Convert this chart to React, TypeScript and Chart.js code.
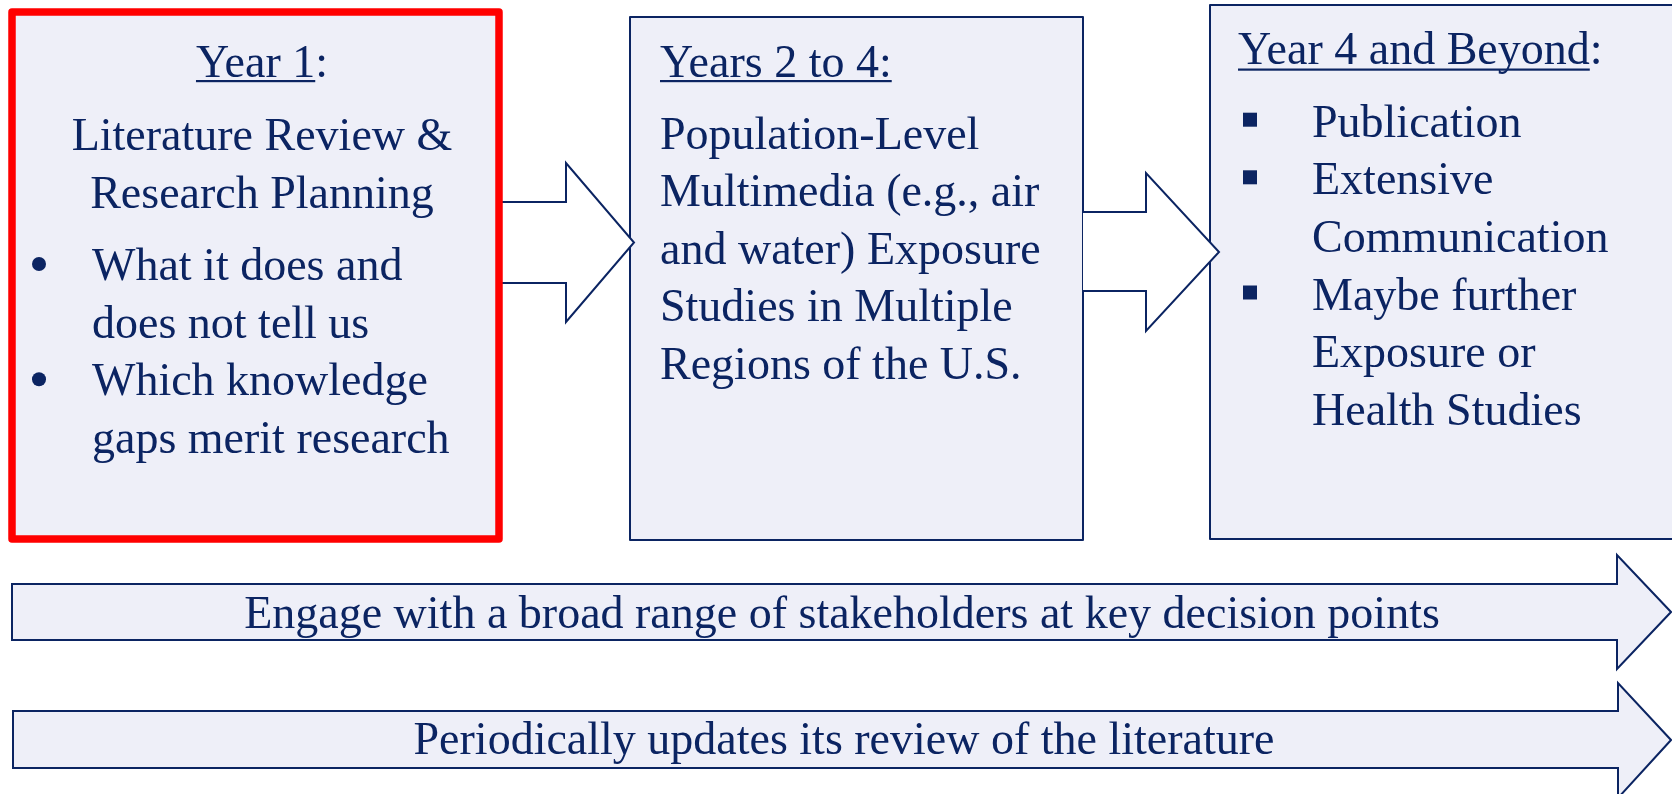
import React, { useEffect, useRef } from "react";
import { Chart, registerables } from "chart.js";

Chart.register(...registerables);

// ---- Content ----
const box1Heading = "Year 1";
const box1HeadingSuffix = ":";
const box1Subtitle = ["Literature Review &", "Research Planning"];
const box1Bullets = [
  ["What it does and", "does not tell us"],
  ["Which knowledge", "gaps merit research"],
];
const box2Heading = "Years 2 to 4:";
const box2Lines = [
  "Population-Level",
  "Multimedia (e.g., air",
  "and water) Exposure",
  "Studies in Multiple",
  "Regions of the U.S.",
];
const box3Heading = "Year 4 and Beyond";
const box3HeadingSuffix = ":";
const box3Bullets = [
  ["Publication"],
  ["Extensive", "Communication"],
  ["Maybe further", "Exposure or", "Health Studies"],
];
const bandLabels = [
  "Engage with a broad range of stakeholders at key decision points",
  "Periodically updates its review of the literature",
];

// ---- Styling / layout ----
const W = 1672;
const H = 794;
const NAVY = "#0B2462";
const FILL = "#EEEFF8";
const RED = "#FF0000";
const FONT = "46px 'Liberation Serif', 'Times New Roman', serif";
const LH = 57.6;

const diagramPlugin = {
  id: "diagram",
  afterDraw(chart: any) {
    const ctx = chart.ctx as CanvasRenderingContext2D;
    const xs = chart.scales.x;
    const ys = chart.scales.y;
    const X = (v: number) => xs.getPixelForValue(v);
    const Y = (v: number) => ys.getPixelForValue(v);

    const rect = (x0: number, y0: number, x1: number, y1: number, fill: string | null, stroke: string | null, lw: number) => {
      ctx.beginPath();
      ctx.rect(X(x0), Y(y0), X(x1) - X(x0), Y(y1) - Y(y0));
      if (fill) { ctx.fillStyle = fill; ctx.fill(); }
      if (stroke) { ctx.strokeStyle = stroke; ctx.lineWidth = lw; ctx.lineJoin = "round"; ctx.stroke(); }
    };
    const arrow = (x0: number, sy0: number, sy1: number, hx: number, hy0: number, hy1: number, tx: number, ty: number, fill: string, closeLeft: boolean) => {
      ctx.beginPath();
      if (closeLeft) {
        ctx.moveTo(X(x0), Y(sy0));
      } else {
        ctx.moveTo(X(x0), Y(sy0));
      }
      ctx.lineTo(X(hx), Y(sy0));
      ctx.lineTo(X(hx), Y(hy0));
      ctx.lineTo(X(tx), Y(ty));
      ctx.lineTo(X(hx), Y(hy1));
      ctx.lineTo(X(hx), Y(sy1));
      ctx.lineTo(X(x0), Y(sy1));
      if (closeLeft) ctx.closePath();
      ctx.fillStyle = fill;
      ctx.fill();
      ctx.strokeStyle = NAVY;
      ctx.lineWidth = 2;
      ctx.lineJoin = "miter";
      ctx.stroke();
    };
    const text = (s: string, x: number, y: number, align: CanvasTextAlign) => {
      ctx.font = FONT;
      ctx.fillStyle = NAVY;
      ctx.textAlign = align;
      ctx.textBaseline = "alphabetic";
      ctx.fillText(s, X(x), Y(y));
    };
    const underline = (s: string, x: number, y: number, align: "left" | "center", uy: number) => {
      ctx.font = FONT;
      const w = ctx.measureText(s).width;
      const left = align === "left" ? X(x) : X(x) - w / 2;
      ctx.fillStyle = NAVY;
      ctx.fillRect(left, Y(uy) - 1, w, 2.2);
    };

    ctx.save();
    // white background
    ctx.fillStyle = "#FFFFFF";
    ctx.fillRect(0, 0, chart.width, chart.height);

    // Box fills and borders (boxes 2, 3)
    rect(12, 12, 499, 539, FILL, null, 0);
    rect(630, 17, 1083, 540, FILL, NAVY, 2);
    rect(1210, 5, 1690, 539, FILL, NAVY, 2);

    // Connecting arrows (white)
    arrow(499, 202, 283, 566, 163, 322, 634, 242.5, "#FFFFFF", false);
    arrow(1083, 212, 291, 1146, 173, 331, 1219, 252, "#FFFFFF", false);

    // Red box border on top
    ctx.beginPath();
    ctx.rect(X(12), Y(12), X(499) - X(12), Y(539) - Y(12));
    ctx.strokeStyle = RED;
    ctx.lineWidth = 7.5;
    ctx.lineJoin = "round";
    ctx.stroke();

    // Bottom band arrows
    arrow(12, 584, 640, 1617, 555, 669, 1671, 612, FILL, true);
    arrow(13, 711, 768, 1618, 683, 798, 1671, 740, FILL, true);

    // ---- Box 1 text ----
    const b1cx = 262;
    ctx.font = FONT;
    const headW = ctx.measureText(box1Heading + box1HeadingSuffix).width;
    const headLeft = b1cx - headW / 2;
    text(box1Heading + box1HeadingSuffix, headLeft, 77, "left");
    underline(box1Heading, headLeft, 77, "left", 81);
    box1Subtitle.forEach((s, i) => text(s, b1cx, 150 + i * LH, "center"));
    let yb = 280;
    box1Bullets.forEach((lines) => {
      ctx.beginPath();
      ctx.arc(X(39), Y(yb - 16), 7, 0, Math.PI * 2);
      ctx.fillStyle = NAVY;
      ctx.fill();
      lines.forEach((s) => {
        text(s, 92, yb, "left");
        yb += LH;
      });
    });

    // ---- Box 2 text ----
    text(box2Heading, 660, 77, "left");
    underline(box2Heading, 660, 77, "left", 81);
    box2Lines.forEach((s, i) => text(s, 660, 148.5 + i * LH, "left"));

    // ---- Box 3 text ----
    text(box3Heading + box3HeadingSuffix, 1238, 64, "left");
    underline(box3Heading, 1238, 64, "left", 69.5);
    let y3 = 136.7;
    box3Bullets.forEach((lines) => {
      ctx.fillStyle = NAVY;
      ctx.fillRect(X(1243), Y(y3 - 24), 14, 14);
      lines.forEach((s) => {
        text(s, 1312, y3, "left");
        y3 += LH;
      });
    });

    // ---- Band labels ----
    text(bandLabels[0], 842, 627.5, "center");
    text(bandLabels[1], 844, 753.5, "center");

    ctx.restore();
  },
};

export default function App() {
  const ref = useRef<HTMLCanvasElement | null>(null);
  useEffect(() => {
    document.body.style.margin = "0";
    const canvas = ref.current;
    if (!canvas) return;
    const chart = new Chart(canvas, {
      type: "scatter",
      data: { datasets: [{ data: [], pointRadius: 0 }] },
      options: {
        responsive: false,
        animation: false,
        devicePixelRatio: 1,
        layout: { padding: 0 },
        plugins: { legend: { display: false }, tooltip: { enabled: false } },
        scales: {
          x: { type: "linear", min: 0, max: W, display: false },
          y: { type: "linear", min: 0, max: H, reverse: true, display: false },
        },
      },
      plugins: [diagramPlugin],
    });
    return () => chart.destroy();
  }, []);
  return (
    <div style={{ position: "fixed", left: 0, top: 0, width: W, height: H, background: "#fff" }}>
      <canvas ref={ref} width={W} height={H} style={{ display: "block", width: W, height: H }} />
    </div>
  );
}
